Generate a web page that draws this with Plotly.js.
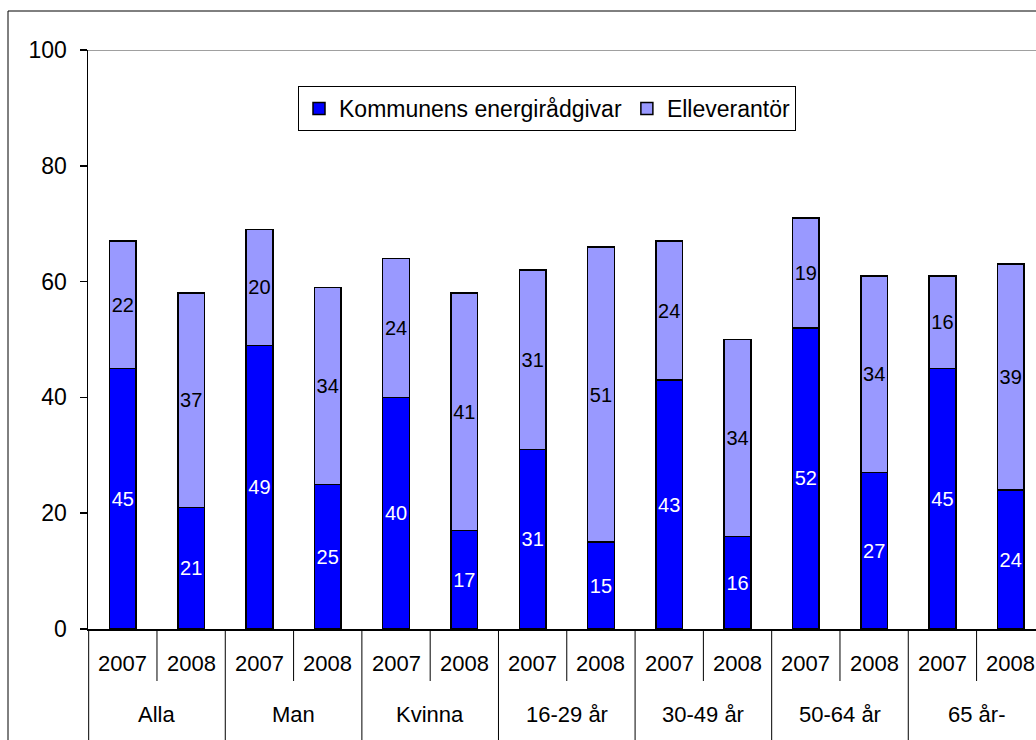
<!DOCTYPE html>
<html>
<head>
<meta charset="utf-8">
<script src="https://cdn.plot.ly/plotly-3.0.1.min.js"></script>
<style>
  html, body { margin: 0; padding: 0; background: #fff; }
  #chart { width: 1036px; height: 740px; }
</style>
</head>
<body>
<div id="chart"></div>
<script>
// ---- data ----
const groups = ["Alla", "Man", "Kvinna", "16-29 år", "30-49 år", "50-64 år", "65 år-"];
const years = ["2007", "2008"];
const kommunens = [45, 21, 49, 25, 40, 17, 31, 15, 43, 16, 52, 27, 45, 24];
const elleverantor = [22, 37, 20, 34, 24, 41, 31, 51, 24, 34, 19, 34, 16, 39];
const seriesNames = ["Kommunens energirådgivar", "Elleverantör"];
const yTicks = [0, 20, 40, 60, 80, 100];

// ---- build ----
const FONT = "Liberation Sans, Arial, sans-serif";
const xIdx = kommunens.map((_, i) => i);
const yearLabels = xIdx.map(i => years[i % years.length]);

const traces = [
  {
    type: "bar", name: seriesNames[0], x: xIdx, y: kommunens,
    text: kommunens.map(String), textposition: "inside", insidetextanchor: "middle",
    textangle: 0, constraintext: "none",
    insidetextfont: { family: FONT, size: 20, color: "#ffffff" },
    marker: { color: "#0000ff", line: { color: "#000000", width: 1.5 } },
    width: 0.39, hoverinfo: "skip"
  },
  {
    type: "bar", name: seriesNames[1], x: xIdx, y: elleverantor,
    text: elleverantor.map(String), textposition: "inside", insidetextanchor: "middle",
    textangle: 0, constraintext: "none",
    insidetextfont: { family: FONT, size: 20, color: "#000000" },
    marker: { color: "#9999ff", line: { color: "#000000", width: 1.5 } },
    width: 0.39, hoverinfo: "skip"
  }
];

const plotTop = 50, plotBottom = 629, H = 740, W = 1036, L = 88;
const plotH = plotBottom - plotTop;
const pyFromPx = px => (plotBottom - px) / plotH;

const shapes = [];
const annotations = [];
// outer chart frame
shapes.push({ type: "rect", xref: "paper", yref: "paper",
  x0: (8 - L) / (W - L), x1: 1.2, y0: -0.5, y1: pyFromPx(11),
  line: { color: "#000", width: 1 }, fillcolor: "rgba(0,0,0,0)", layer: "below" });
// plot area top border
shapes.push({ type: "line", xref: "paper", yref: "y", x0: 0, x1: 1, y0: 100, y1: 100,
  line: { color: "#808080", width: 1.5 } });
// category dividers
for (let b = 0; b <= xIdx.length; b++) {
  const isGroup = b % years.length === 0;
  shapes.push({ type: "line", xref: "x", yref: "paper",
    x0: b - 0.5, x1: b - 0.5, y0: 0, y1: isGroup ? pyFromPx(H + 5) : pyFromPx(681),
    line: { color: "#000", width: 1 } });
}
// year labels
xIdx.forEach(i => annotations.push({ xref: "x", yref: "paper", x: i, y: pyFromPx(663),
  text: yearLabels[i], showarrow: false, xanchor: "center", yanchor: "middle",
  font: { family: FONT, size: 22, color: "#000" } }));
// group labels
groups.forEach((g, k) => annotations.push({ xref: "x", yref: "paper",
  x: k * years.length + (years.length - 1) / 2, y: pyFromPx(714),
  text: g, showarrow: false, xanchor: "center", yanchor: "middle",
  font: { family: FONT, size: 22, color: "#000" } }));

const layout = {
  width: W, height: H,
  margin: { l: L, r: 0, t: plotTop, b: H - plotBottom, pad: 0 },
  paper_bgcolor: "#ffffff", plot_bgcolor: "#ffffff",
  barmode: "stack",
  font: { family: FONT, size: 22, color: "#000" },
  showlegend: true,
  legend: {
    orientation: "h", x: (298 - L) / (W - L), y: pyFromPx(86), xanchor: "left", yanchor: "top",
    bordercolor: "#000", borderwidth: 1, bgcolor: "#fff",
    font: { family: FONT, size: 23, color: "#000" }, traceorder: "normal"
  },
  xaxis: {
    type: "linear", range: [-0.51, 13.37], showticklabels: false, ticks: "",
    showgrid: false, zeroline: false, showline: true, linecolor: "#000", linewidth: 1.5, fixedrange: true
  },
  yaxis: {
    range: [0, 100], tickvals: yTicks, ticktext: yTicks.map(String), ticks: "outside", ticklen: 7,
    tickwidth: 1.5, tickcolor: "#000", showline: true, linecolor: "#000", linewidth: 1.5,
    showgrid: false, zeroline: false, tickfont: { family: FONT, size: 23, color: "#000" },
    ticklabelstandoff: 8, fixedrange: true
  },
  shapes: shapes,
  annotations: annotations
};

Plotly.newPlot("chart", traces, layout, { staticPlot: true, displayModeBar: false });
</script>
</body>
</html>
